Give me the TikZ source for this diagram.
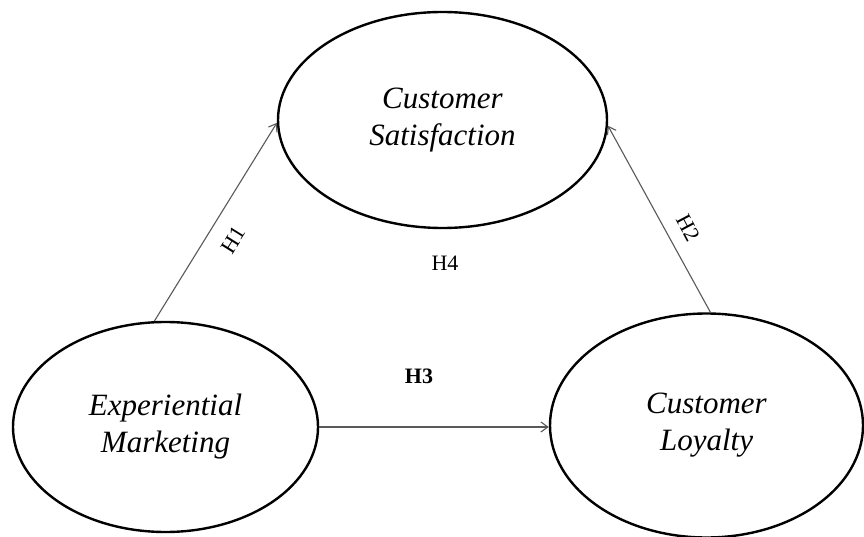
\documentclass[tikz,border=0pt]{standalone}
\usepackage{fontspec}
\setmainfont{Liberation Serif}
\usetikzlibrary{shapes.geometric,arrows.meta}
\tikzset{
  construct/.style={ellipse, draw=black, line width=2.4pt, inner sep=0pt,
    align=center, font=\itshape\fontsize{31}{37}\selectfont},
  hyparrow/.style={draw=black!65, line width=1.1pt,
    -{Straight Barb[length=7pt,width=10pt,line width=1.1pt]}},
  hyplabel/.style={font=\fontsize{22}{24}\selectfont, inner sep=0pt}
}
\begin{document}
\begin{tikzpicture}[x=1pt,y=-1pt]
\path[use as bounding box, fill=white] (0,0) rectangle (864,537);
\node[construct, minimum width=329pt, minimum height=216pt] (cs) at (442.5,120) {Customer\\Satisfaction};
\node[construct, minimum width=305pt, minimum height=210pt] (em) at (165.5,427) {Experiential\\Marketing};
\node[construct, minimum width=313pt, minimum height=224pt] (cl) at (706.5,425.5) {Customer\\Loyalty};
\draw[hyparrow] (em.96) -- (cs.181);
\draw[hyparrow] (cl.88) -- (cs.358);
\draw[hyparrow] (em.east) -- (em.east -| cl.west);
\node[hyplabel, rotate=58] (h1) at (233,240) {H1};
\node[hyplabel, rotate=-62] (h2) at (688,228) {H2};
\node[hyplabel, font=\bfseries\fontsize{22}{24}\selectfont] (h3) at (419,376) {H3};
\node[hyplabel] (h4) at (445,263) {H4};
\end{tikzpicture}
\end{document}
